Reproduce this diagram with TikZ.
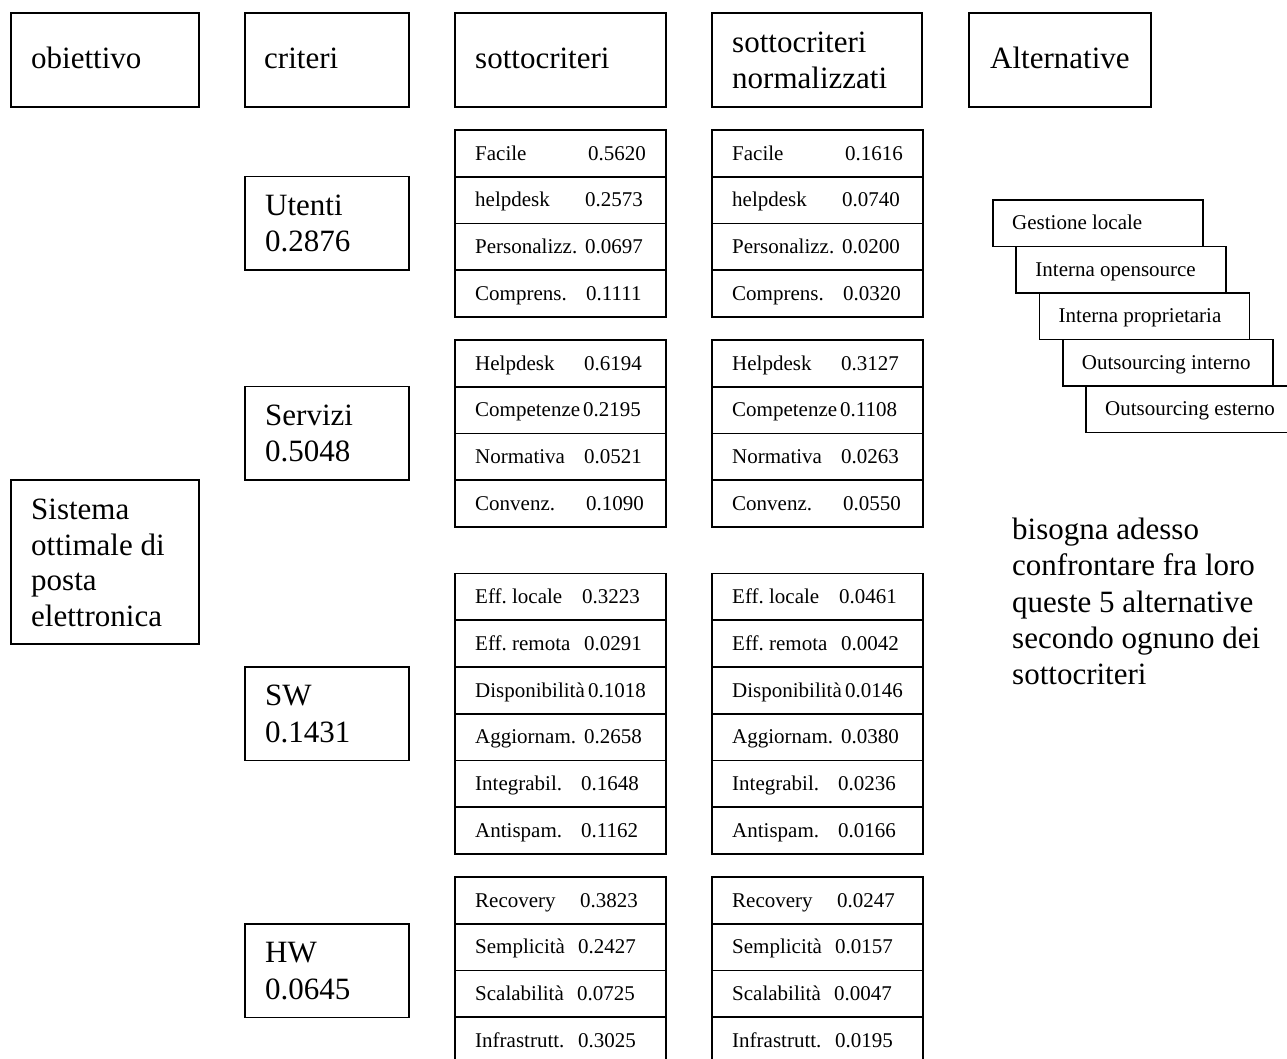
\documentclass[tikz,border=0pt]{standalone}
\usepackage{fontspec}
\setmainfont{Liberation Serif}
\frenchspacing
\newcommand\mkcellgroup[3]{%
  \foreach \lab/\va/\vb/\nx [count=\i] in {#3} {
    \pgfmathsetmacro\ytop{#2+46.75*(\i-1)}
    \pgfmathsetmacro\ybase{\ytop+30}
    \node[cell] (a#1-\i) at (455,\ytop) {};
    \node[cell] (b#1-\i) at (712,\ytop) {};
    \node[small] (al#1-\i) at (475,\ybase) {\lab};
    \node[small] (av#1-\i) at (\nx,\ybase) {\va};
    \node[small] (bl#1-\i) at (732,\ybase) {\lab};
    \node[small] (bv#1-\i) at ({\nx+257},\ybase) {\vb};
  }}
\tikzset{
  box/.style={draw=black, line width=1.8pt, inner sep=0pt, outer sep=0pt, anchor=north west},
  cell/.style={box, minimum width=211pt, minimum height=46.75pt},
  altbox/.style={box, minimum width=210pt, minimum height=46.5pt},
  big/.style={font=\fontsize{31}{36}\selectfont, anchor=base west, inner sep=0pt},
  small/.style={font=\fontsize{21}{25}\selectfont, anchor=base west, inner sep=0pt},
}
\begin{document}
\begin{tikzpicture}[x=1pt, y=-1pt]
\useasboundingbox (0,0) rectangle (1287,1058);
\clip (0,0) rectangle (1287,1058);
\fill[white] (0,0) rectangle (1287,1058);

% header boxes
\node[box, minimum width=188pt, minimum height=94pt] (hobj) at (11,13) {};
\node[box, minimum width=164pt, minimum height=94pt] (hcrit) at (245,13) {};
\node[box, minimum width=211pt, minimum height=94pt] (hsott) at (455,13) {};
\node[box, minimum width=210pt, minimum height=94pt] (hnorm) at (712,13) {};
\node[box, minimum width=182pt, minimum height=94pt] (halt) at (969,13) {};
\node[big] (thobj) at (31,68) {obiettivo};
\node[big] (thcrit) at (264,68) {criteri};
\node[big] (thsott) at (475,68) {sottocriteri};
\node[big] (thnorm1) at (732,52) {sottocriteri};
\node[big] (thnorm2) at (732,88) {normalizzati};
\node[big] (thalt) at (990,68) {Alternative};

% objective
\node[box, minimum width=188pt, minimum height=164pt] (obj) at (11,480) {};
\node[big] (tobj1) at (31,519) {Sistema};
\node[big] (tobj2) at (31,555) {ottimale di};
\node[big] (tobj3) at (31,590.5) {posta};
\node[big] (tobj4) at (31,626) {elettronica};

% criteria
\node[box, minimum width=164pt, minimum height=93.5pt] (cut) at (245,176.5) {};
\node[big] (tcut1) at (265,215) {Utenti};
\node[big] (tcut2) at (265,251.5) {0.2876};
\node[box, minimum width=164pt, minimum height=93.5pt] (cse) at (245,386.5) {};
\node[big] (tcse1) at (265,425) {Servizi};
\node[big] (tcse2) at (265,461.5) {0.5048};
\node[box, minimum width=164pt, minimum height=93.5pt] (csw) at (245,667) {};
\node[big] (tcsw1) at (265,705.5) {SW};
\node[big] (tcsw2) at (265,742) {0.1431};
\node[box, minimum width=164pt, minimum height=93.5pt] (chw) at (245,924) {};
\node[big] (tchw1) at (265,962.5) {HW};
\node[big] (tchw2) at (265,999) {0.0645};

% sub-criteria
\mkcellgroup{1}{130}{Facile/0.5620/0.1616/588, helpdesk/0.2573/0.0740/585, Personalizz./0.0697/0.0200/585, Comprens./0.1111/0.0320/586}
\mkcellgroup{2}{340}{Helpdesk/0.6194/0.3127/584, Competenze/0.2195/0.1108/583, Normativa/0.0521/0.0263/584, Convenz./0.1090/0.0550/586}
\mkcellgroup{3}{573.5}{Eff. locale/0.3223/0.0461/582, Eff. remota/0.0291/0.0042/584, Disponibilità/0.1018/0.0146/588, Aggiornam./0.2658/0.0380/584, Integrabil./0.1648/0.0236/581, Antispam./0.1162/0.0166/581}
\mkcellgroup{4}{877}{Recovery/0.3823/0.0247/580, Semplicità/0.2427/0.0157/578, Scalabilità/0.0725/0.0047/577, Infrastrutt./0.3025/0.0195/578}

% alternatives
\foreach \t [count=\i] in {Gestione locale, Interna opensource, Interna proprietaria, Outsourcing interno, Outsourcing esterno} {
  \pgfmathsetmacro\ax{993+23.25*(\i-1)}
  \pgfmathsetmacro\ay{200+46.5*(\i-1)}
  \node[altbox] (alt\i) at (\ax,\ay) {};
  \node[small] (talt\i) at ({\ax+19},{\ay+29.5}) {\t};
}

% note
\node[big] (n1) at (1012,539.5) {bisogna adesso};
\node[big] (n2) at (1012,575.8) {confrontare fra loro};
\node[big] (n3) at (1012,612.1) {queste 5 alternative};
\node[big] (n4) at (1012,648.4) {secondo ognuno dei};
\node[big] (n5) at (1012,684.7) {sottocriteri};
\end{tikzpicture}
\end{document}
